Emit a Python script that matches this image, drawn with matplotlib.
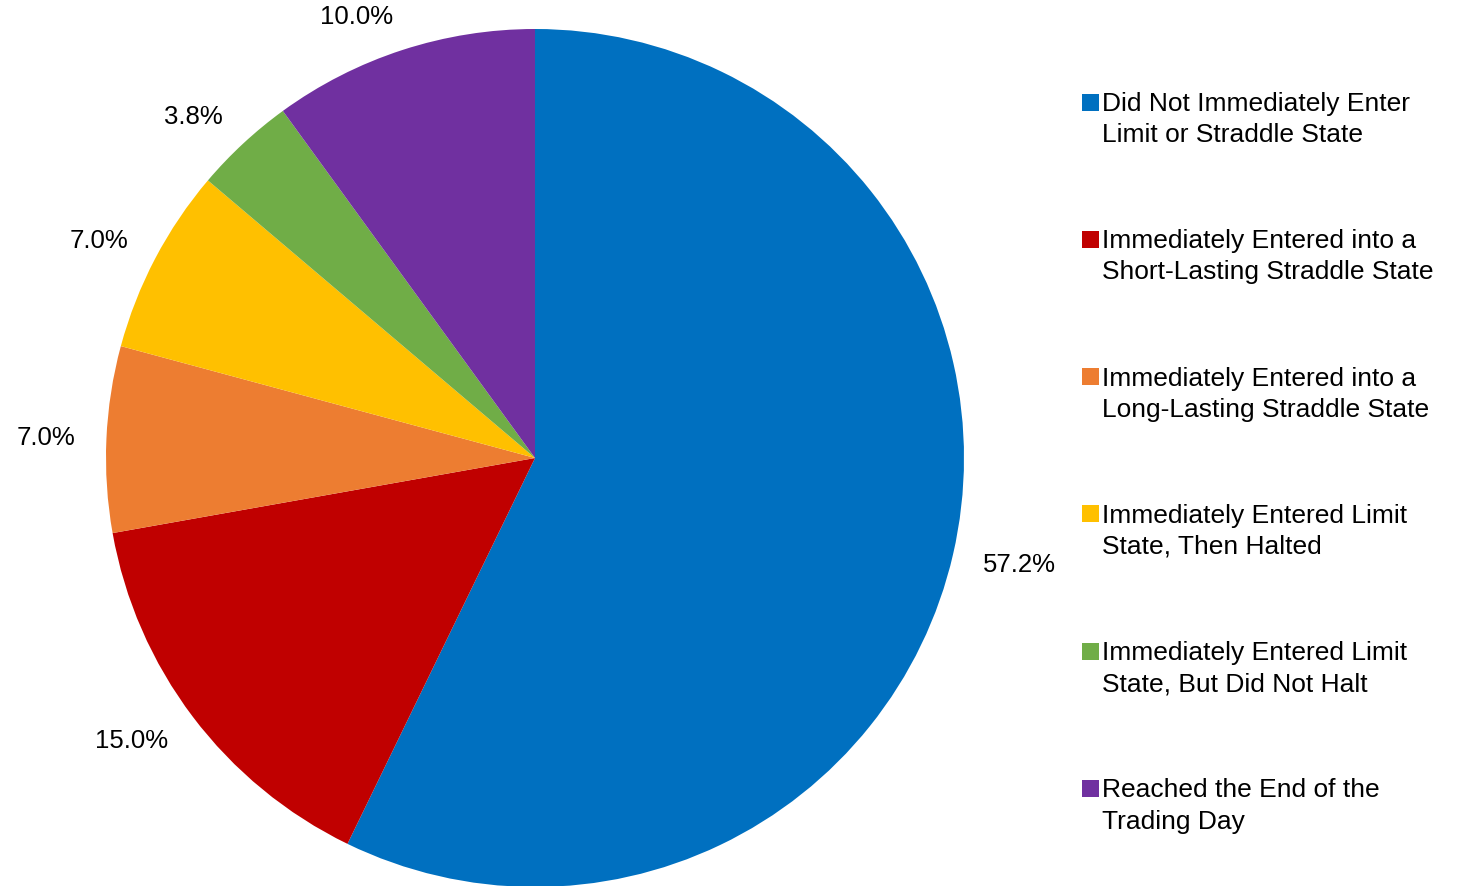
import matplotlib
matplotlib.use("Agg")
import numpy as np
import matplotlib.pyplot as plt
from matplotlib.patches import Rectangle

categories = [
    "Did Not Immediately Enter\nLimit or Straddle State",
    "Immediately Entered into a\nShort-Lasting Straddle State",
    "Immediately Entered into a\nLong-Lasting Straddle State",
    "Immediately Entered Limit\nState, Then Halted",
    "Immediately Entered Limit\nState, But Did Not Halt",
    "Reached the End of the\nTrading Day",
]
values = [57.2, 15.0, 7.0, 7.0, 3.8, 10.0]
colors = ["#0070C0", "#C00000", "#ED7D31", "#FFC000", "#70AD47", "#7030A0"]

plt.rcParams['font.family'] = ['Liberation Sans', 'DejaVu Sans']

W, H = 1457, 887
fig = plt.figure(figsize=(W / 100, H / 100), dpi=100)
cx, cy, r = 535, 459, 429
ax = fig.add_axes([(cx - r) / W, (H - cy - r) / H, 2 * r / W, 2 * r / H])
wedges, texts, autotexts = ax.pie(
    values, colors=colors, startangle=90, counterclock=False,
    autopct='%.1f%%', pctdistance=1.14, radius=1,
    wedgeprops=dict(linewidth=0),
    textprops=dict(fontsize=18.5, color='black'))
ax.set_xlim(-1, 1)
ax.set_ylim(-1, 1)
ax.set_aspect('equal')
ax.axis('off')

# place each label just outside the edge (Excel "outside end" style):
# the label box corner nearest the pie touches a circle slightly outside it
fig.canvas.draw()
renderer = fig.canvas.get_renderer()
gap = 0.072
for w, t in zip(wedges, autotexts):
    ang = np.deg2rad((w.theta1 + w.theta2) / 2)
    bb = t.get_window_extent(renderer)
    hw = bb.width / 2 / r
    hh = 0.01
    c, s = np.cos(ang), np.sin(ang)
    px, py = (1 + gap) * c, (1 + gap) * s
    ox = hw * np.clip(c / 0.3, -1, 1)
    oy = hh * np.clip(s / 0.3, -1, 1)
    t.set_position((px + ox, py + oy))

# legend drawn manually to keep the marker aligned with the first text line
y0, dy = 103, 137.3
for i, (lab, col) in enumerate(zip(categories, colors)):
    yc = y0 + i * dy
    fig.patches.append(Rectangle((1082 / W, (H - yc - 8.5) / H), 17 / W, 17 / H,
                                 transform=fig.transFigure, facecolor=col,
                                 edgecolor='none'))
    fig.text(1102 / W, (H - yc + 11) / H, lab, fontsize=19, ha='left',
             va='top', linespacing=1.37, color='black')

fig.savefig("out.png", dpi=100)
